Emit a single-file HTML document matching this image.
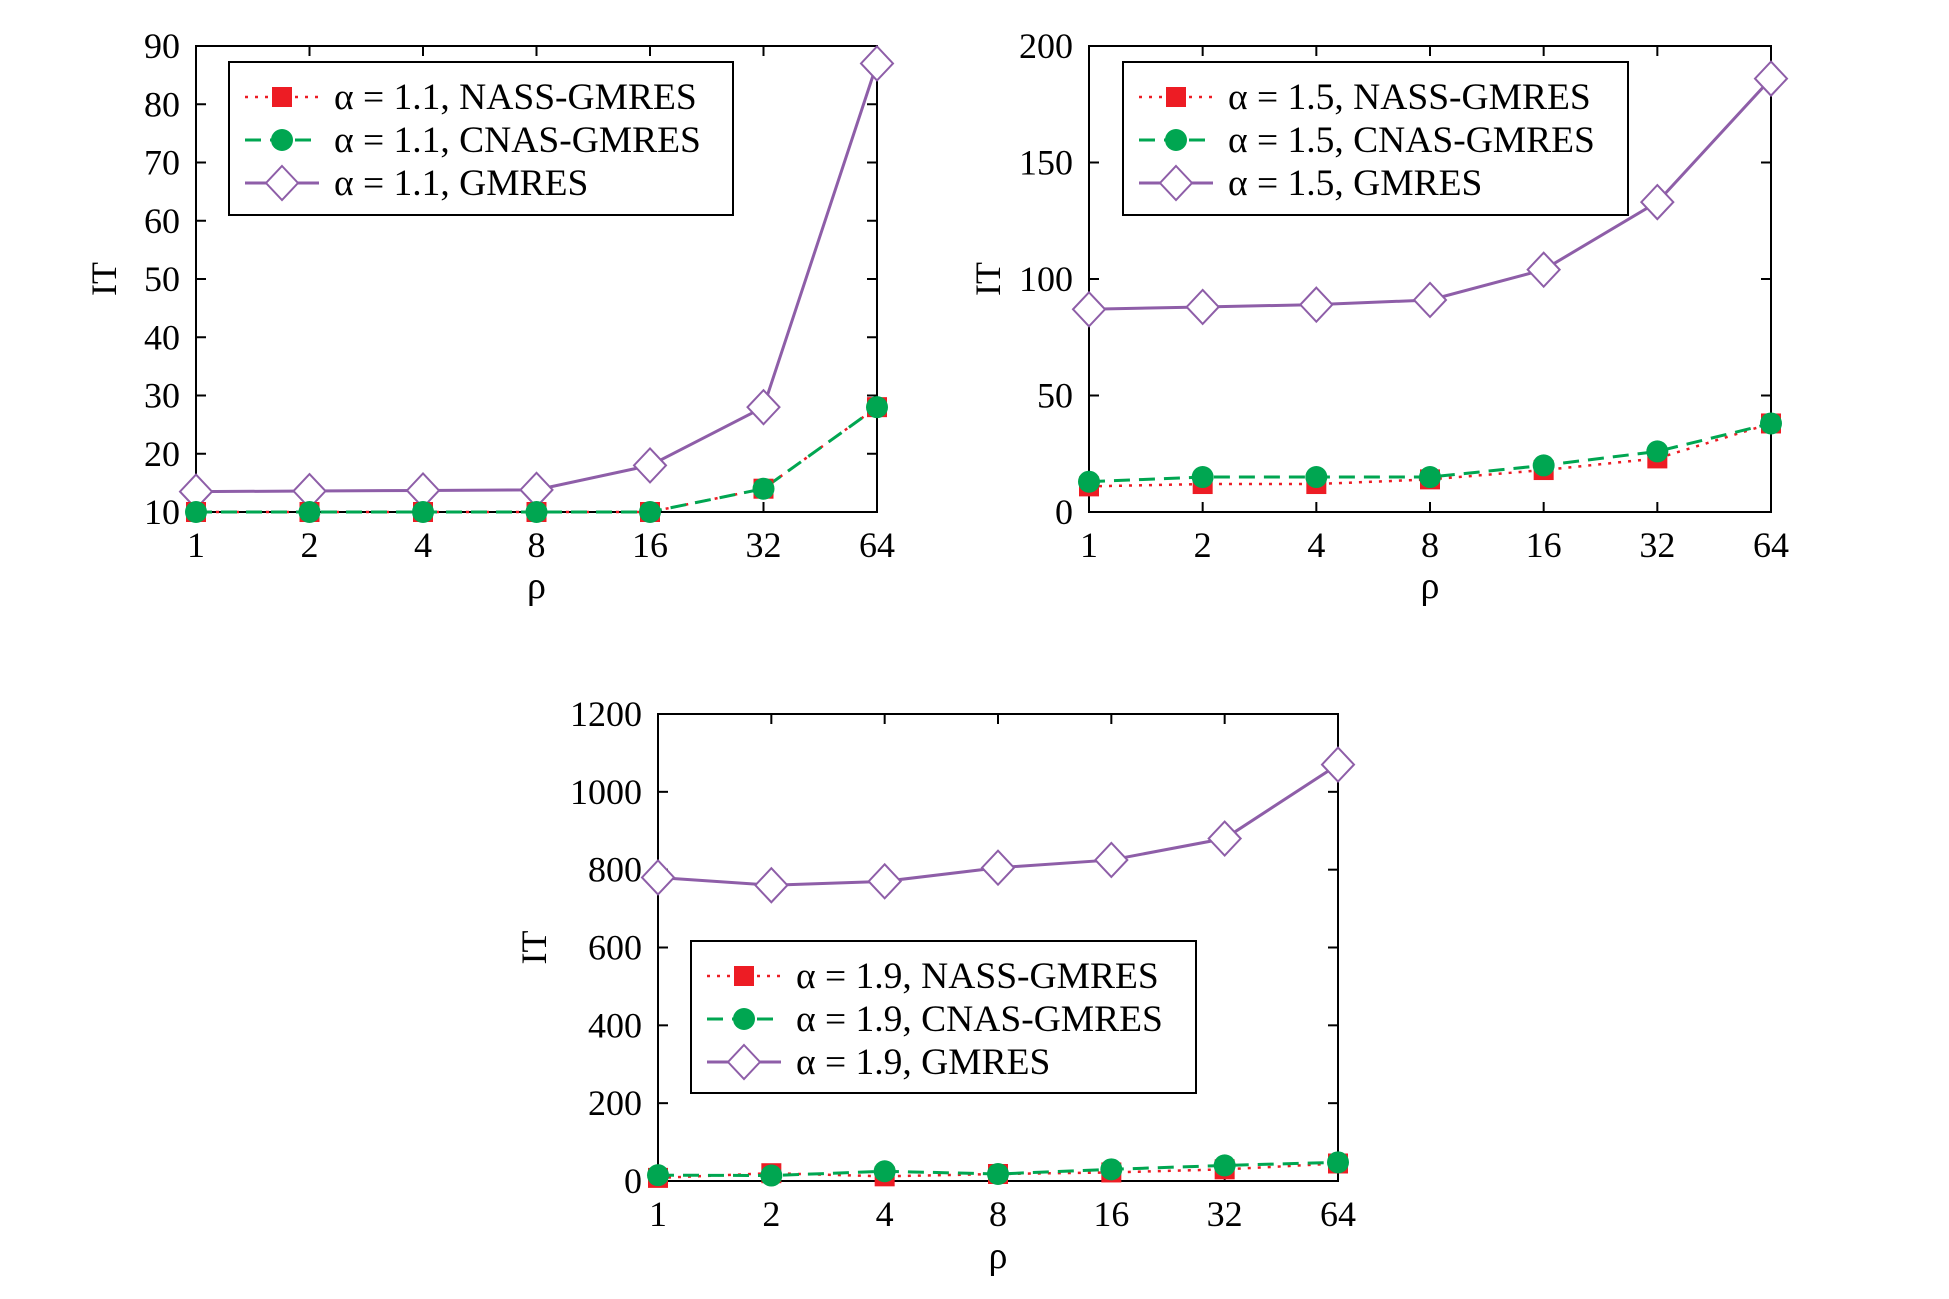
<!DOCTYPE html>
<html><head><meta charset="utf-8"><style>
html,body{margin:0;padding:0;background:#fff;}
svg{display:block;font-family:"Liberation Serif",serif;}
</style></head><body>
<svg id="fig" width="1949" height="1299" viewBox="0 0 1949 1299" xmlns="http://www.w3.org/2000/svg"></svg>
<script>
const categories = ["1","2","4","8","16","32","64"];
const nass1 = [10,10,10,10,10,14,28];
const cnas1 = [10,10,10,10,10,14,28];
const gmres1 = [13.5,13.6,13.7,13.8,18,28,87];
const yTicks1 = [10,20,30,40,50,60,70,80,90];
const nass2 = [11,12,12,14,18,23,38];
const cnas2 = [13,15,15,15,20,26,38];
const gmres2 = [87,88,89,91,104,133,186];
const yTicks2 = [0,50,100,150,200];
const nass3 = [8,20,12,18,22,30,45];
const cnas3 = [15,14,25,18,30,40,48];
const gmres3 = [780,760,770,805,825,880,1070];
const yTicks3 = [0,200,400,600,800,1000,1200];
const alphas = ["1.1","1.5","1.9"];

const NS="http://www.w3.org/2000/svg";
const svg=document.getElementById('fig');
function mk(tag,attrs,parent){const e=document.createElementNS(NS,tag);for(const k in attrs)e.setAttribute(k,attrs[k]);(parent||svg).appendChild(e);return e;}
const RED="#ed1c24",GREEN="#00a651",PURPLE="#8e5ea8";

function marker(g,type,x,y){
  let m;
  if(type==='sq'){m=mk('rect',{x:x-10,y:y-10,width:20,height:20,fill:RED},g);}
  else if(type==='ci'){m=mk('circle',{cx:x,cy:y,r:11,fill:GREEN},g);}
  else {m=mk('polygon',{points:`${x},${y-17} ${x+16},${y} ${x},${y+17} ${x-16},${y}`,fill:'#fff',stroke:PURPLE,'stroke-width':2},g);}
  return m;
}

function chart(id,L,R,T,B,ymin,ymax,ticks,series,leg,alpha,ylabX,xlabY){
  const g=mk('g',{});
  
  
  const xs=i=>L+(R-L)*i/(categories.length-1);
  const ys=v=>B-(B-T)*(v-ymin)/(ymax-ymin);
  const frame=mk('rect',{x:L,y:T,width:R-L,height:B-T,fill:'none',stroke:'#000','stroke-width':2},g);
  
  
  ticks.forEach(t=>{
    const y=ys(t);
    mk('line',{x1:L,y1:y,x2:L+10,y2:y,stroke:'#000','stroke-width':2},g);
    mk('line',{x1:R,y1:y,x2:R-10,y2:y,stroke:'#000','stroke-width':2},g);
    const tx=mk('text',{x:L-16,y:y+12,'font-size':36,'text-anchor':'end'},g);
    tx.textContent=t;
    
    
  });
  categories.forEach((c,i)=>{
    const x=xs(i);
    mk('line',{x1:x,y1:T,x2:x,y2:T+10,stroke:'#000','stroke-width':2},g);
    mk('line',{x1:x,y1:B,x2:x,y2:B-10,stroke:'#000','stroke-width':2},g);
    const tx=mk('text',{x:x,y:B+45,'font-size':36,'text-anchor':'middle'},g);
    tx.textContent=c;
    
    
  });
  const yl=mk('text',{x:0,y:0,'font-size':36,'text-anchor':'middle',transform:`translate(${ylabX},${(T+B)/2}) rotate(-90)`},g);
  yl.textContent='IT';
  
  
  const xl=mk('text',{x:(L+R)/2,y:xlabY,'font-size':38,'text-anchor':'middle'},g);
  xl.textContent='ρ';
  
  
  const styles=[
    {c:RED,d:'3,7',m:'sq',w:2.5,name:'nass-series'},
    {c:GREEN,d:'16,9',m:'ci',w:3,name:'cnas-series'},
    {c:PURPLE,d:'',m:'di',w:3,name:'gmres-series'}];
  [2,0,1].forEach(si=>{
    const s=styles[si],data=series[si];
    const pts=data.map((v,i)=>`${xs(i)},${ys(v)}`).join(' ');
    const pl=mk('polyline',{points:pts,fill:'none',stroke:s.c,'stroke-width':s.w,'stroke-dasharray':s.d},g);
    
    
  });
  [2,0,1].forEach(si=>{
    const s=styles[si],data=series[si];
    data.forEach((v,i)=>{
      const m=marker(g,s.m,xs(i),ys(v));
      
      
    });
  });
  const [lx,ly,lw,lh]=leg;
  const lg=mk('g',{},g);
  
  
  mk('rect',{x:lx,y:ly,width:lw,height:lh,fill:'#fff',stroke:'#000','stroke-width':2},lg);
  const labels=['NASS-GMRES','CNAS-GMRES','GMRES'];
  styles.forEach((s,k)=>{
    const cy=ly+35+k*43;
    mk('line',{x1:lx+16,y1:cy,x2:lx+90,y2:cy,stroke:s.c,'stroke-width':s.w,'stroke-dasharray':s.d},lg);
    marker(lg,s.m,lx+53,cy);
    const t=mk('text',{x:lx+105,y:cy+12,'font-size':37.5},lg);
    t.textContent=`α = ${alpha}, ${labels[k]}`;
    
    
  });
}
chart('chart-alpha-1-1',196,877,46,512,10,90,yTicks1,[nass1,cnas1,gmres1],[229,62,504,153],alphas[0],116,598);
chart('chart-alpha-1-5',1089,1771,46,512,0,200,yTicks2,[nass2,cnas2,gmres2],[1123,62,505,153],alphas[1],1000,598);
chart('chart-alpha-1-9',658,1338,714,1181,0,1200,yTicks3,[nass3,cnas3,gmres3],[691,941,505,152],alphas[2],546,1268);
</script>
</body></html>
